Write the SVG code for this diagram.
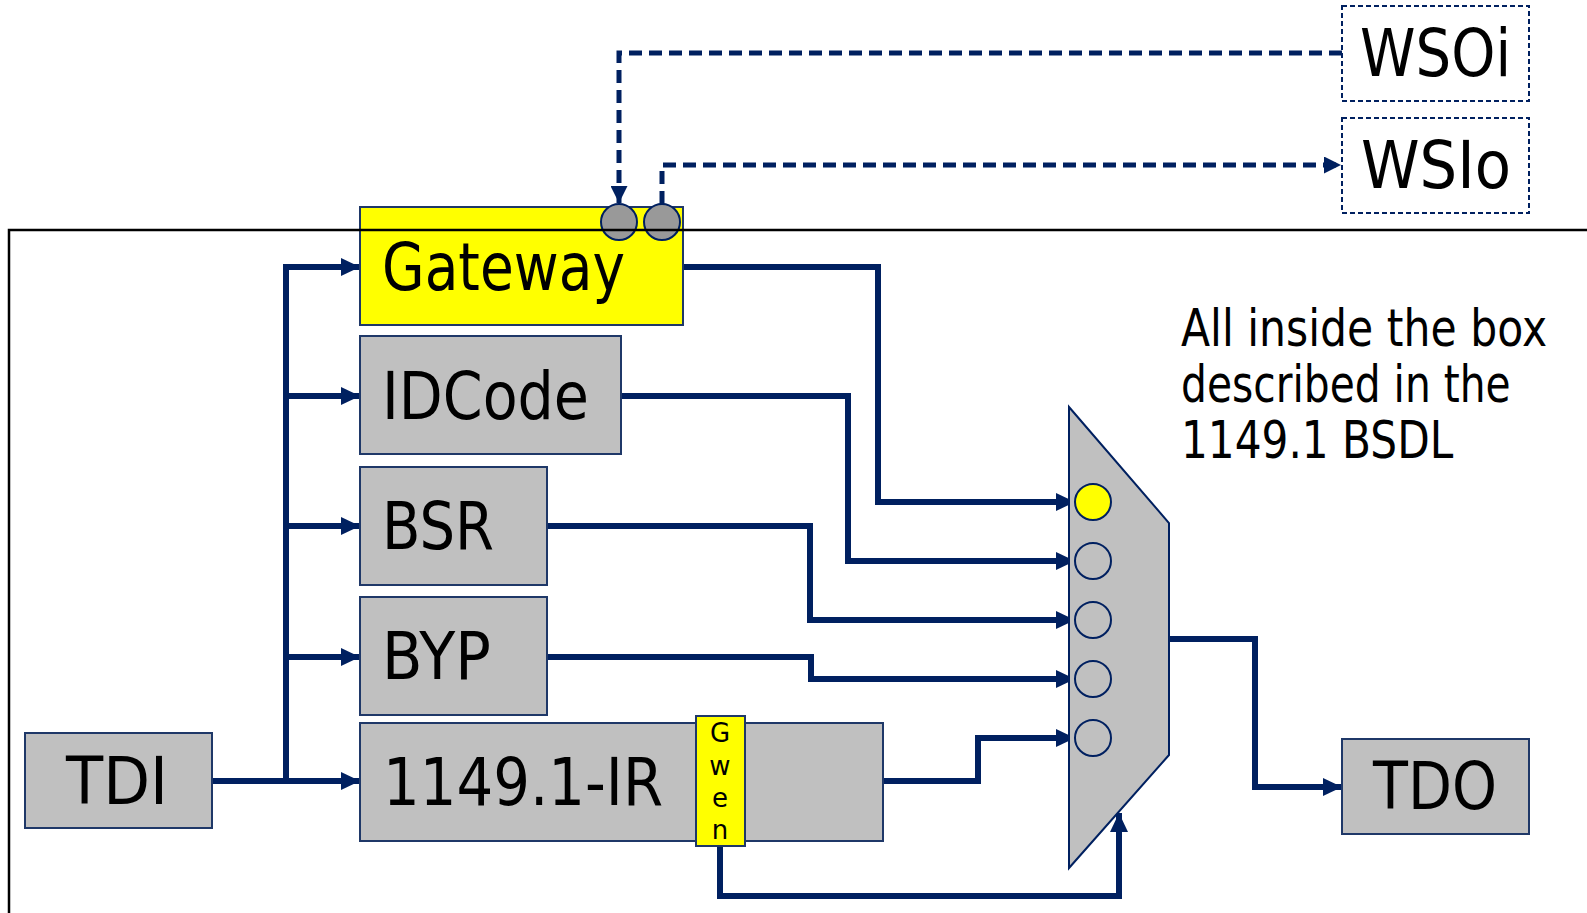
<svg xmlns="http://www.w3.org/2000/svg" width="1587" height="913" viewBox="0 0 1587 913">
<style>
.box{fill:#C0C0C0;stroke:#1F3868;stroke-width:2}
.ybox{fill:#FFFF00;stroke:#1F3868;stroke-width:2}
.lbl{font-family:"DejaVu Sans",Verdana,sans-serif;font-size:66px;fill:#000}
.note{font-family:"DejaVu Sans",Verdana,sans-serif;font-size:51px;fill:#000}
.gw{font-family:"DejaVu Sans",Verdana,sans-serif;font-size:26px;fill:#000;text-anchor:middle}
.wire{fill:none;stroke:#002060;stroke-width:6}
.dash{fill:none;stroke:#002060;stroke-width:5;stroke-dasharray:13 7}
.dbox{fill:#fff;stroke:#002060;stroke-width:2;stroke-dasharray:5 3}
.port{fill:#999999;stroke:#002060;stroke-width:2}
.mport{fill:none;stroke:#002060;stroke-width:2}
</style>
<defs>
<marker id="ah" markerWidth="19" markerHeight="18" refX="19" refY="9" orient="auto" markerUnits="userSpaceOnUse"><path d="M0,0 L19,9 L0,18 z" fill="#002060"/></marker>
<marker id="ahd" markerWidth="17" markerHeight="17" refX="17" refY="8.5" orient="auto" markerUnits="userSpaceOnUse"><path d="M0,0 L17,8.5 L0,17 z" fill="#002060"/></marker>
</defs>
<rect width="1587" height="913" fill="#fff"/>

<g id="wsoi"><rect class="dbox" x="1342" y="6" width="187" height="95"/><text class="lbl" x="1360" y="76" textLength="151" lengthAdjust="spacingAndGlyphs">WSOi</text></g>
<g id="wsio"><rect class="dbox" x="1342" y="118" width="187" height="95"/><text class="lbl" x="1361" y="188" textLength="150" lengthAdjust="spacingAndGlyphs">WSIo</text></g>

<g id="connectors">
<path class="dash" d="M1342,53 H619 V203" marker-end="url(#ahd)"/>
<path class="dash" d="M662,204 V165 H1341" marker-end="url(#ahd)"/>
<path class="wire" d="M212,781 H286"/>
<path class="wire" d="M286,781 V267 H360" marker-end="url(#ah)"/>
<path class="wire" d="M286,396 H360" marker-end="url(#ah)"/>
<path class="wire" d="M286,526 H360" marker-end="url(#ah)"/>
<path class="wire" d="M286,657 H360" marker-end="url(#ah)"/>
<path class="wire" d="M286,781 H360" marker-end="url(#ah)"/>
<path class="wire" d="M683,267 H878 V502 H1075" marker-end="url(#ah)"/>
<path class="wire" d="M621,396 H848 V561 H1075" marker-end="url(#ah)"/>
<path class="wire" d="M547,526 H810 V620 H1075" marker-end="url(#ah)"/>
<path class="wire" d="M547,657 H811 V679 H1075" marker-end="url(#ah)"/>
<path class="wire" d="M883,781 H978 V738 H1075" marker-end="url(#ah)"/>
<path class="wire" d="M720,846 V896 H1119 V813" marker-end="url(#ah)"/>
<path class="wire" d="M1169,639 H1255 V787 H1342" marker-end="url(#ah)"/>
</g>

<g id="gateway"><rect class="ybox" x="360" y="207" width="323" height="118"/><text class="lbl" x="382" y="290" textLength="243" lengthAdjust="spacingAndGlyphs">Gateway</text>
<circle class="port" cx="619" cy="222" r="18"/><circle class="port" cx="662" cy="222" r="18"/></g>
<g id="idcode"><rect class="box" x="360" y="336" width="261" height="118"/><text class="lbl" x="382" y="419" textLength="207" lengthAdjust="spacingAndGlyphs">IDCode</text></g>
<g id="bsr"><rect class="box" x="360" y="467" width="187" height="118"/><text class="lbl" x="382" y="549" textLength="112" lengthAdjust="spacingAndGlyphs">BSR</text></g>
<g id="byp"><rect class="box" x="360" y="597" width="187" height="118"/><text class="lbl" x="382" y="679" textLength="109" lengthAdjust="spacingAndGlyphs">BYP</text></g>
<g id="ir"><rect class="box" x="360" y="723" width="523" height="118"/><text class="lbl" x="383" y="805" textLength="280" lengthAdjust="spacingAndGlyphs">1149.1-IR</text></g>
<g id="gwen"><rect class="ybox" x="696" y="716" width="49" height="130"/>
<text class="gw" x="720" y="742">G</text><text class="gw" x="720" y="775">w</text><text class="gw" x="720" y="807">e</text><text class="gw" x="720" y="839">n</text></g>
<g id="tdi"><rect class="box" x="25" y="733" width="187" height="95"/><text class="lbl" x="66" y="804" textLength="102" lengthAdjust="spacingAndGlyphs">TDI</text></g>
<g id="tdo"><rect class="box" x="1342" y="739" width="187" height="95"/><text class="lbl" x="1373" y="809" textLength="124" lengthAdjust="spacingAndGlyphs">TDO</text></g>

<g id="mux"><polygon points="1069,407 1169,523 1169,755 1069,868" fill="#C0C0C0" stroke="#002060" stroke-width="2"/>
<circle cx="1093" cy="502" r="18" fill="#FFFF00" stroke="#002060" stroke-width="2"/>
<circle class="mport" cx="1093" cy="561" r="18"/>
<circle class="mport" cx="1093" cy="620" r="18"/>
<circle class="mport" cx="1093" cy="679" r="18"/>
<circle class="mport" cx="1093" cy="738" r="18"/></g>

<g id="note">
<text class="note" transform="matrix(0.81 0 0 1 1181 346)" x="0" y="0" textLength="452" lengthAdjust="spacingAndGlyphs">All inside the box</text>
<text class="note" transform="matrix(0.81 0 0 1 1181 402)" x="0" y="0" textLength="407" lengthAdjust="spacingAndGlyphs">described in the</text>
<text class="note" transform="matrix(0.81 0 0 1 1181 458)" x="0" y="0" textLength="336" lengthAdjust="spacingAndGlyphs">1149.1 BSDL</text>
</g>

<g id="frame"><rect x="9" y="230" width="1600" height="720" fill="none" stroke="#000" stroke-width="2.5"/></g>
</svg>
